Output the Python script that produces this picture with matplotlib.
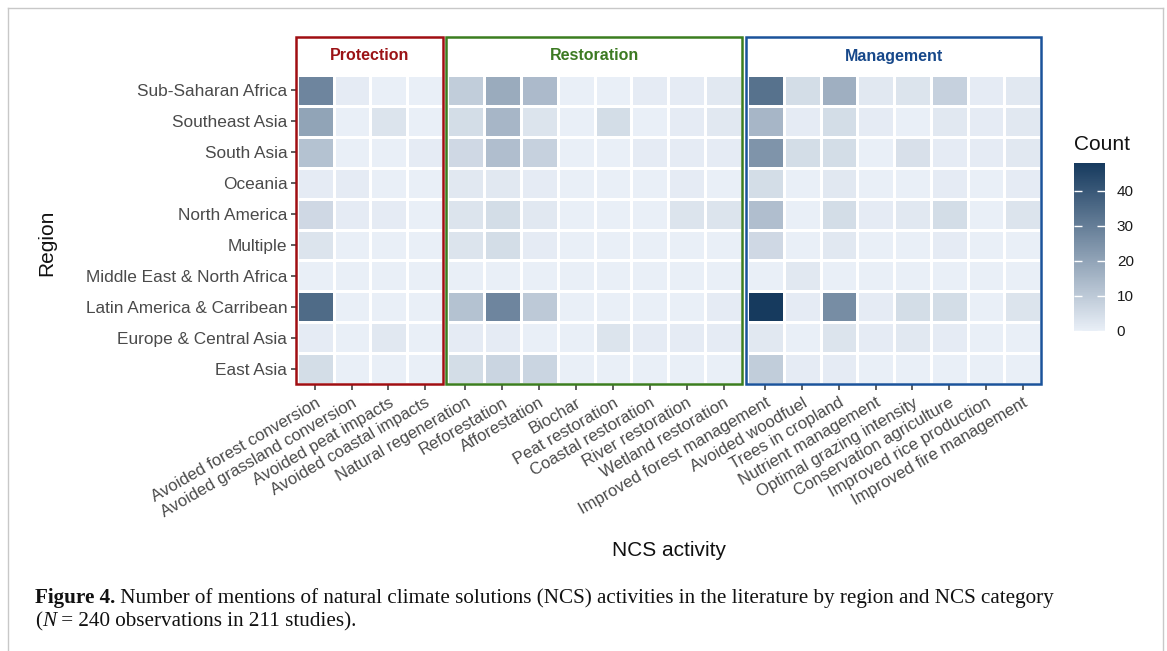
import numpy as np
import matplotlib
matplotlib.use("Agg")
import matplotlib.pyplot as plt
from matplotlib.colors import LinearSegmentedColormap
from matplotlib.lines import Line2D
from matplotlib.patches import Rectangle

plt.rcParams["font.family"] = ["Liberation Sans", "DejaVu Sans"]

# ---------------------------------------------------------------- data
regions = [
    "Sub-Saharan Africa", "Southeast Asia", "South Asia", "Oceania",
    "North America", "Multiple", "Middle East & North Africa",
    "Latin America & Carribean", "Europe & Central Asia", "East Asia",
]

protection_activities = [
    "Avoided forest conversion", "Avoided grassland conversion",
    "Avoided peat impacts", "Avoided coastal impacts",
]
restoration_activities = [
    "Natural regeneration", "Reforestation", "Afforestation", "Biochar",
    "Peat restoration", "Coastal restoration", "River restoration",
    "Wetland restoration",
]
management_activities = [
    "Improved forest management", "Avoided woodfuel", "Trees in cropland",
    "Nutrient management", "Optimal grazing intensity",
    "Conservation agriculture", "Improved rice production",
    "Improved fire management",
]

# counts, one row per region (same order as `regions`)
protection_counts = [
    [28, 1, 0, 0],
    [20, 0, 3, 0],
    [12, 0, 0, 1],
    [1, 1, 0, 0],
    [6, 1, 1, 0],
    [3, 0, 0, 0],
    [0, 0, 0, 0],
    [35, 0, 0, 0],
    [1, 0, 2, 0],
    [5, 0, 0, 0],
]
restoration_counts = [
    [9, 18, 14, 0, 0, 1, 1, 2],
    [5, 15, 3, 0, 5, 0, 1, 2],
    [6, 13, 8, 0, 0, 1, 1, 1],
    [2, 2, 1, 0, 0, 0, 1, 0],
    [3, 5, 2, 0, 0, 0, 3, 3],
    [3, 5, 1, 0, 0, 0, 0, 0],
    [0, 0, 0, 0, 0, 0, 0, 0],
    [12, 28, 10, 0, 0, 0, 0, 1],
    [1, 1, 0, 0, 3, 1, 1, 1],
    [5, 7, 7, 0, 0, 0, 0, 0],
]
management_counts = [
    [33, 5, 17, 2, 3, 8, 1, 2],
    [15, 1, 5, 1, 0, 2, 1, 2],
    [24, 5, 5, 0, 4, 1, 1, 2],
    [5, 0, 2, 0, 0, 1, 0, 1],
    [13, 0, 5, 1, 2, 5, 0, 3],
    [6, 0, 2, 0, 0, 1, 0, 0],
    [0, 2, 0, 0, 0, 0, 0, 0],
    [48, 1, 26, 1, 5, 5, 0, 3],
    [2, 0, 3, 1, 2, 1, 0, 0],
    [9, 1, 1, 0, 0, 0, 0, 0],
]

category_names = ["Protection", "Restoration", "Management"]
category_colors = ["#a00e12", "#3b7d1f", "#1a539b"]
category_text_colors = ["#9b1316", "#3c7a22", "#17488a"]

count_max = 48
colorbar_ticks = [0, 10, 20, 30, 40]

# ---------------------------------------------------------------- figure
W, H = 1167, 651
fig = plt.figure(figsize=(W / 100, H / 100), dpi=100)


def fx(px):
    return px / W


def fy(py):
    return 1 - py / H


cmap = LinearSegmentedColormap.from_list("count", ["#e9eff7", "#163a5e"])

panels = [
    (protection_activities, protection_counts, 297, 443),
    (restoration_activities, restoration_counts, 447, 742),
    (management_activities, management_counts, 747, 1041),
]

cell_top, cell_bottom = 75, 384
strip_top = 37
tick_color = "#333333"
label_color = "#4a4a4a"

mesh = None
for k, (acts, counts, x0, x1) in enumerate(panels):
    ax = fig.add_axes([fx(x0), fy(cell_bottom), fx(x1 - x0),
                       (cell_bottom - cell_top) / H])
    data = np.array(counts, dtype=float)
    nr, nc = data.shape
    mesh = ax.pcolormesh(np.arange(nc + 1), np.arange(nr + 1), data,
                         cmap=cmap, vmin=0, vmax=count_max,
                         edgecolors="white", linewidth=1.0)
    ax.set_xlim(0, nc)
    ax.set_ylim(nr, 0)
    for s in ax.spines.values():
        s.set_visible(False)
    ax.set_xticks(np.arange(nc) + 0.5)
    ax.set_xticklabels(acts, rotation=30, ha="right",
                       rotation_mode="anchor", fontsize=12,
                       color=label_color)
    ax.tick_params(axis="x", length=4, width=1.1, color=tick_color, pad=4)
    if k == 0:
        ax.set_yticks(np.arange(nr) + 0.5)
        ax.set_yticklabels(regions, fontsize=12.4, color=label_color)
        ax.tick_params(axis="y", length=4, width=1.1, color=tick_color,
                       pad=3)
    else:
        ax.set_yticks([])

    # framed facet with strip label
    fig.add_artist(Rectangle((fx(x0 - 1), fy(cell_bottom)),
                             fx(x1 - x0 + 1), (cell_bottom - strip_top) / H,
                             transform=fig.transFigure, fill=False,
                             edgecolor=category_colors[k], linewidth=1.8,
                             zorder=5))
    fig.text(fx((x0 + x1) / 2), fy(56), category_names[k],
             ha="center", va="center", fontsize=11.5, fontweight="bold",
             color=category_text_colors[k])

# axis titles
fig.text(fx(47), fy(243), "Region", rotation=90, ha="center",
         va="center", fontsize=15, color="#111111")
fig.text(fx(669), fy(550), "NCS activity", ha="center", va="center",
         fontsize=15, color="#111111")

# colour bar
cax = fig.add_axes([fx(1074), fy(331), fx(31), (331 - 163) / H])
cb = fig.colorbar(mesh, cax=cax, ticks=colorbar_ticks)
cb.outline.set_visible(False)
cax.tick_params(axis="y", direction="in", length=6, width=1,
                color="white", left=True, right=True,
                labelleft=False, labelright=True, labelsize=11,
                labelcolor="#1a1a1a", pad=8.5)
fig.text(fx(1074), fy(144), "Count", ha="left", va="center",
         fontsize=15, color="#111111")

# outer frame (open at the bottom)
frame_col = "#c8c8c8"
for xs, ys in [([7.5, 7.5], [700, 7.5]), ([7.5, 1162.5], [7.5, 7.5]),
               ([1162.5, 1162.5], [7.5, 700])]:
    fig.add_artist(Line2D([fx(v) for v in xs], [fy(v) for v in ys],
                          transform=fig.transFigure, color=frame_col,
                          linewidth=1.0))

# caption
serif = ["Liberation Serif", "DejaVu Serif"]
fig.canvas.draw()
renderer = fig.canvas.get_renderer()


def caption_run(pieces, x_px, y_px):
    x = x_px
    for txt, style, weight in pieces:
        t = fig.text(fx(x), fy(y_px), txt, ha="left", va="baseline",
                     fontsize=15.2, family=serif, fontstyle=style,
                     fontweight=weight, color="#111111")
        x += t.get_window_extent(renderer).width


caption_run([("Figure 4.", "normal", "bold"),
             (" Number of mentions of natural climate solutions (NCS) "
              "activities in the literature by region and NCS category",
              "normal", "normal")], 35, 603)
caption_run([("(", "normal", "normal"),
             ("N", "italic", "normal"),
             (" = 240 observations in 211 studies).", "normal", "normal")],
            35, 626)

fig.savefig("out.png", dpi=100, facecolor="white")
